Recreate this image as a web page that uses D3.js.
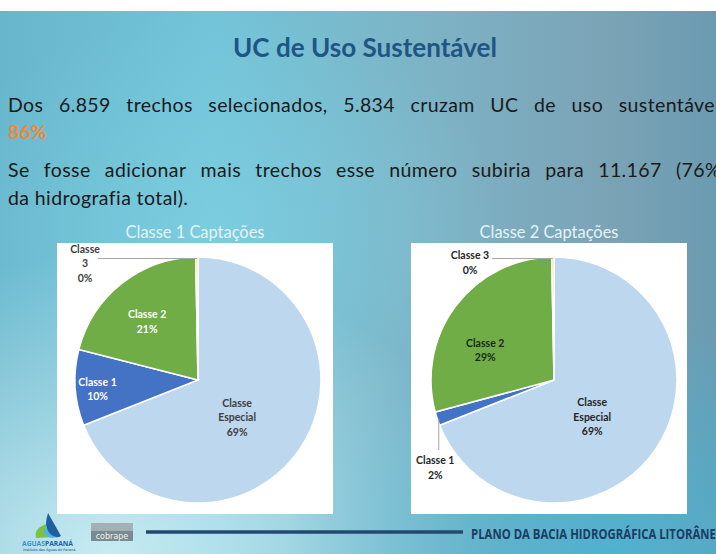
<!DOCTYPE html>
<html>
<head>
<meta charset="utf-8">
<script src="https://cdn.jsdelivr.net/npm/d3@7"></script>
<style>
  html, body { margin: 0; padding: 0; background: #fff; overflow: hidden; }
  #outer { width: 716px; height: 554px; }
</style>
</head>
<body>
<div id="outer"></div>
<script>
////////// DATA //////////
const categories = ['Classe Especial', 'Classe 1', 'Classe 2', 'Classe 3'];
const classe1Captacoes = [69.0, 10.0, 20.7, 0.3];
const classe2Captacoes = [69.0, 1.8, 28.9, 0.3];
const chartTitles = ['Classe 1 Captações', 'Classe 2 Captações'];
const slideTitle = 'UC de Uso Sustentável';
const bodyLine1 = 'Dos 6.859 trechos selecionados, 5.834 cruzam UC de uso sustentável';
const highlightValue = '86%';
const bodyLine2 = 'Se fosse adicionar mais trechos esse número subiria para 11.167 (76%';
const bodyLine3 = 'da hidrografia total).';
const footerText = 'PLANO DA BACIA HIDROGRÁFICA LITORÂNEA';

function defineSlide() {
  const W = 716, H = 554;

  ////////// Hard Coded Defs //////////
  const sliceColors = d3.scaleOrdinal()
    .domain(categories)
    .range(['#bdd7ee', '#4472c4', '#70ad47', '#ffd54a']);

  const labelFont = 'bold 10.5px Lato';

  // label placement per chart (inside labels: angle offset from slice middle + radius fraction)
  const labelSetup = [
    {
      'Classe Especial': { type: 'in', lines: ['Classe', 'Especial', '%'], dAngle: 9.5, rf: 0.44, color: '#404040' },
      'Classe 1': { type: 'in', lines: ['Classe 1', '%'], dAngle: -1.5, rf: 0.82, color: '#ffffff' },
      'Classe 2': { type: 'in', lines: ['Classe 2', '%'], dAngle: -2.7, rf: 0.63, color: '#ffffff' },
      'Classe 3': { type: 'h', lines: ['Classe', '3', '%'], lead: -100, tx: -113, ty: -117, color: '#404040' }
    },
    {
      'Classe Especial': { type: 'in', lines: ['Classe', 'Especial', '%'], dAngle: 9.5, rf: 0.43, color: '#262626' },
      'Classe 1': { type: 'v', lines: ['Classe 1', '%'], lead: 70, tx: -2, ty: 87.5, color: '#262626' },
      'Classe 2': { type: 'in', lines: ['Classe 2', '%'], dAngle: -13.4, rf: 0.61, color: '#1a2a14' },
      'Classe 3': { type: 'h', lines: ['Classe 3', '%'], lead: -62, tx: -84, ty: -117.5, color: '#262626' }
    }
  ];

  const layout = [
    { panel: [57, 243, 276, 271], cx: 198, cy: 380, r: 123, titleX: 195 },
    { panel: [411, 243, 276, 271], cx: 554, cy: 380, r: 123, titleX: 549 }
  ];

  const svg = d3.select('#outer').append('svg')
    .attr('width', W)
    .attr('height', H);

  const measure = (txt, font, spacing) => {
    const t = svg.append('text').style('font', font)
      .style('letter-spacing', (spacing || 0) + 'px')
      .text(txt);
    const w = t.node().getComputedTextLength();
    t.remove();
    return w;
  };

  ////////////////////////////////////////////////////////////////
  // BACKGROUND
  ////////////////////////////////////////////////////////////////
  const defs = svg.append('defs');
  const bgGrad = defs.append('linearGradient').attr('id', 'bgGrad')
    .attr('x1', 0).attr('y1', 0).attr('x2', 1).attr('y2', 0);
  [[0, '#68b6cc'], [0.3, '#73c4d8'], [0.6, '#7db3c5'], [0.85, '#7ba3b6'], [1, '#6b9bb1']]
    .forEach(([o, c]) => bgGrad.append('stop').attr('offset', o).attr('stop-color', c));

  const glowBL = defs.append('radialGradient').attr('id', 'glowBL')
    .attr('cx', 0.15).attr('cy', 1).attr('r', 0.55);
  glowBL.append('stop').attr('offset', 0).attr('stop-color', '#d2f0f6').attr('stop-opacity', 0.9);
  glowBL.append('stop').attr('offset', 1).attr('stop-color', '#d2f0f6').attr('stop-opacity', 0);

  const glowBR = defs.append('radialGradient').attr('id', 'glowBR')
    .attr('cx', 0.85).attr('cy', 1).attr('r', 0.45);
  glowBR.append('stop').attr('offset', 0).attr('stop-color', '#45b6d6').attr('stop-opacity', 0.8);
  glowBR.append('stop').attr('offset', 1).attr('stop-color', '#45b6d6').attr('stop-opacity', 0);

  const glowMid = defs.append('radialGradient').attr('id', 'glowMid')
    .attr('cx', 0.3).attr('cy', 0.4).attr('r', 0.4);
  glowMid.append('stop').attr('offset', 0).attr('stop-color', '#80d2e4').attr('stop-opacity', 0.6);
  glowMid.append('stop').attr('offset', 1).attr('stop-color', '#80d2e4').attr('stop-opacity', 0);

  svg.append('rect').attr('width', W).attr('height', H).attr('fill', '#ffffff');
  ['bgGrad', 'glowMid', 'glowBL', 'glowBR'].forEach(id => {
    svg.append('rect')
      .attr('x', 0).attr('y', 11)
      .attr('width', W).attr('height', H - 11)
      .attr('fill', `url(#${id})`);
  });

  ////////////////////////////////////////////////////////////////
  // TITLE & BODY TEXT
  ////////////////////////////////////////////////////////////////
  const titleFontSize = 22 * 264 / measure(slideTitle, 'bold 22px Lato');
  svg.append('text')
    .attr('x', 365).attr('y', 57)
    .attr('text-anchor', 'middle')
    .style('font', `bold ${titleFontSize}px Lato`)
    .attr('fill', '#1f5584')
    .text(slideTitle);

  // body: letter spacing fitted to last line width, capped to keep it tight
  const bodyFont = '19.5px Lato';
  const baseW = measure(bodyLine3, bodyFont);
  const bodySpacing = Math.max(0, Math.min(0.4, (200 - baseW) / bodyLine3.length));

  // justified line: spreads words so the given partial last word ends at rightEdge
  const justify = (line, lastPart, y, rightEdge) => {
    const words = line.split(' ');
    const widths = words.map(w => measure(w, bodyFont, bodySpacing));
    const used = d3.sum(widths.slice(0, -1)) + measure(lastPart, bodyFont, bodySpacing);
    const gap = (rightEdge - 8 - used) / (words.length - 1);
    const t = svg.append('text').attr('y', y)
      .style('font', bodyFont)
      .style('letter-spacing', bodySpacing + 'px')
      .attr('fill', '#1a1a1a');
    let x = 8;
    words.forEach((w, i) => {
      t.append('tspan').attr('x', x).text(w);
      x += widths[i] + gap;
    });
  };

  justify(bodyLine1, 'sustentáve', 111.5, 715);
  svg.append('text')
    .attr('x', 8).attr('y', 138.5)
    .style('font', bodyFont)
    .style('font-weight', 'bold')
    .attr('fill', '#f0883a')
    .text(highlightValue);
  justify(bodyLine2, '(76', 176.5, 705);
  svg.append('text')
    .attr('x', 8).attr('y', 205)
    .style('font', bodyFont)
    .style('letter-spacing', bodySpacing + 'px')
    .attr('fill', '#1a1a1a')
    .text(bodyLine3);

  ////////////////////////////////////////////////////////////////
  // PIE CHARTS
  ////////////////////////////////////////////////////////////////
  const pie = d3.pie().sort(null).value(d => d.value);

  const drawPie = (values, title, lay, labels) => {
    const data = categories.map((c, i) => ({ category: c, value: values[i] }));
    const total = d3.sum(values);
    const [px, py, pw, ph] = lay.panel;

    svg.append('rect')
      .attr('x', px).attr('y', py)
      .attr('width', pw).attr('height', ph)
      .attr('fill', '#ffffff');

    const titleSize = 15 * 139 / measure(chartTitles[0], '15px Lato');
    svg.append('text')
      .attr('x', lay.titleX).attr('y', 238)
      .attr('text-anchor', 'middle')
      .style('font', `${titleSize}px Lato`)
      .attr('fill', '#e4f3f7')
      .text(title);

    const arc = d3.arc().innerRadius(0).outerRadius(lay.r);
    const g = svg.append('g').attr('transform', `translate(${lay.cx},${lay.cy})`);

    const arcs = pie(data);
    g.selectAll('path.slice')
      .data(arcs)
      .join('path')
      .attr('class', 'slice')
      .attr('d', arc)
      .attr('fill', d => sliceColors(d.data.category))
      .attr('stroke', '#ffffff')
      .attr('stroke-width', 1.5);

    const lineH = 14.5;
    arcs.forEach(d => {
      const spec = labels[d.data.category];
      const pct = Math.round(d.data.value / total * 100) + '%';
      const mid = (d.startAngle + d.endAngle) / 2;
      let lx, ly;
      if (spec.type === 'in') {
        [lx, ly] = d3.pointRadial(mid + spec.dAngle * Math.PI / 180, lay.r * spec.rf);
      } else {
        const [ax, ay] = d3.pointRadial(mid, lay.r);
        const pts = spec.type === 'h'
          ? [[ax, ay + 1.5], [spec.lead, ay + 1.5]]
          : [[ax + 1.5, ay], [ax + 1.5, spec.lead]];
        g.append('path')
          .attr('d', d3.line()(pts))
          .attr('stroke', '#a6a6a6')
          .attr('stroke-width', 1)
          .attr('fill', 'none');
        lx = spec.type === 'h' ? spec.tx : ax + spec.tx;
        ly = spec.ty;
      }
      const t = g.append('text')
        .attr('text-anchor', 'middle')
        .style('font', labelFont)
        .attr('fill', spec.color);
      const n = spec.lines.length;
      spec.lines.forEach((ln, i) => {
        t.append('tspan')
          .attr('x', lx)
          .attr('y', ly + (i - (n - 1) / 2) * lineH)
          .attr('dominant-baseline', 'central')
          .text(ln === '%' ? pct : ln);
      });
    });
  };

  drawPie(classe1Captacoes, chartTitles[0], layout[0], labelSetup[0]);
  drawPie(classe2Captacoes, chartTitles[1], layout[1], labelSetup[1]);

  ////////////////////////////////////////////////////////////////
  // FOOTER
  ////////////////////////////////////////////////////////////////
  svg.append('line')
    .attr('x1', 146).attr('x2', 463)
    .attr('y1', 532).attr('y2', 532)
    .attr('stroke', '#224a6e')
    .attr('stroke-width', 3.5);

  // condensed bold look: squeeze Open Sans bold horizontally
  const footFont = 'bold 14px "Open Sans"';
  const footScale = 245 / measure('PLANO DA BACIA HIDROGRÁFICA LITORÂNE', footFont);
  svg.append('text')
    .attr('transform', `translate(471,538.5) scale(${footScale},1)`)
    .style('font', footFont)
    .attr('fill', '#1d3b63')
    .text(footerText);

  // cobrape logo
  svg.append('rect').attr('x', 91).attr('y', 523).attr('width', 42).attr('height', 8).attr('fill', '#a3b0b4');
  svg.append('rect').attr('x', 91).attr('y', 531).attr('width', 42).attr('height', 10).attr('fill', '#7b8a90');
  svg.append('text')
    .attr('x', 112).attr('y', 539)
    .attr('text-anchor', 'middle')
    .style('font', '8px "DejaVu Sans"')
    .attr('fill', '#eef3f4')
    .text('cobrape');

  // aguasparana logo
  const logo = svg.append('g');
  logo.append('path')
    .attr('d', 'M36,538 C34,530 40,526 47,524 C44,529 46,534 52,537 Z')
    .attr('fill', '#7cc142');
  logo.append('path')
    .attr('d', 'M48,513 L61,536 C56,539 50,536 47,532 C45,528 46,520 48,513 Z')
    .attr('fill', '#1f5fa0');
  logo.append('path')
    .attr('d', 'M47,524 C46,530 50,536 57,537 C52,539 45,537 44,532 Z')
    .attr('fill', '#4fb3e0');
  const brandFont = 'bold 7px "Open Sans"';
  const brandScale = 51 / measure('AGUASPARANÁ', brandFont);
  const brand = logo.append('text')
    .attr('transform', `translate(22,545.5) scale(${brandScale},1)`)
    .style('font', brandFont);
  brand.append('tspan').attr('fill', '#3b8fd0').text('AGUAS');
  brand.append('tspan').attr('fill', '#1f5fa0').text('PARANÁ');
  logo.append('text')
    .attr('x', 23).attr('y', 550.5)
    .style('font', '3.5px "DejaVu Sans"')
    .attr('fill', '#1f4f80')
    .text('Instituto das Águas do Paraná');
}

defineSlide();
</script>
</body>
</html>
